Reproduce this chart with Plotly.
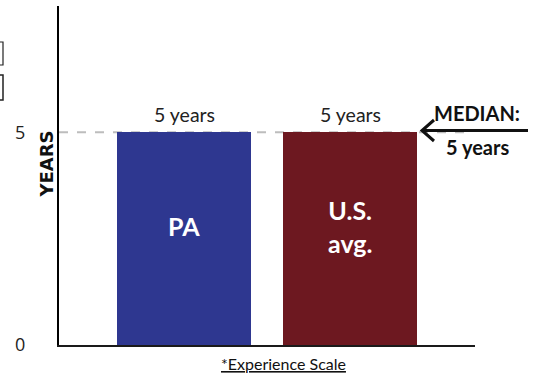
import plotly.graph_objects as go

categories = ["PA", "U.S. avg."]
category_lines = [["PA"], ["U.S.", "avg."]]
values = [5, 5]
value_labels = ["5 years", "5 years"]
bar_colors = ["#2E3790", "#6D1820"]
median_value = 5
median_label = ["MEDIAN:", "5 years"]
tick_vals = [0, 5]
tick_text = ["0", "5"]

x_pos = list(range(len(categories)))
FONT = "Lato"

def px_x(p):
    return (p - 59) / 416

def px_y(p):
    return (345 - p) / 339

fig = go.Figure()
fig.add_trace(go.Bar(
    x=x_pos, y=values, width=0.807,
    marker=dict(color=bar_colors, line=dict(width=0)),
    hoverinfo="skip", showlegend=False,
))

# category labels inside bars
for xp, lines in zip(x_pos, category_lines):
    fig.add_annotation(x=xp, y=px_y(226), xref="x", yref="paper",
                       xanchor="center", yanchor="middle",
                       text="<br>".join(f"<b>{ln}</b>" for ln in lines),
                       showarrow=False,
                       font=dict(family=FONT, size=25, color="white"))

# median dashed line
fig.add_shape(type="line", xref="x", yref="y", x0=-0.753, x1=1.74,
              y0=median_value, y1=median_value,
              line=dict(color="#BDBDBD", width=2, dash="dash"), layer="below")

# value labels above bars
for xp, lab, v in zip(x_pos, value_labels, values):
    fig.add_annotation(x=xp, y=v, yref="y", text=lab, showarrow=False,
                       yanchor="bottom", yshift=4,
                       font=dict(family=FONT, size=19.5, color="#222"))

# MEDIAN arrow (open chevron)
fig.add_shape(type="line", xref="paper", yref="paper",
              x0=px_x(528), x1=px_x(422), y0=px_y(130.5), y1=px_y(130.5),
              line=dict(color="#111", width=3))
fig.add_shape(type="path", xref="paper", yref="paper",
              path=f"M {px_x(434)},{px_y(120)} L {px_x(422)},{px_y(130.5)} L {px_x(434)},{px_y(141)}",
              line=dict(color="#111", width=3))
fig.add_annotation(x=px_x(477), y=px_y(113), xref="paper", yref="paper",
                   xanchor="center", yanchor="middle",
                   text=f"<b>{median_label[0]}</b>", showarrow=False,
                   font=dict(family=FONT, size=20, color="#111"))
fig.add_annotation(x=px_x(477), y=px_y(147), xref="paper", yref="paper",
                   xanchor="center", yanchor="middle",
                   text=f"<b>{median_label[1]}</b>", showarrow=False,
                   font=dict(family=FONT, size=20, color="#111"))

# YEARS axis title
fig.add_annotation(x=px_x(45.5), y=px_y(164), xref="paper", yref="paper",
                   xanchor="center", yanchor="middle",
                   text="<b>YEARS</b>", textangle=-90, showarrow=False,
                   font=dict(family="DejaVu Sans", size=18, color="#111"))

# x axis caption
fig.add_annotation(x=px_x(283), y=px_y(363), xref="paper", yref="paper",
                   xanchor="center", yanchor="middle",
                   text="<u>*Experience Scale</u>", showarrow=False,
                   font=dict(family=FONT, size=16, color="#111"))

# cropped boxes at left edge
fig.add_shape(type="rect", xref="paper", yref="paper",
              x0=px_x(-6), x1=px_x(3), y0=px_y(65), y1=px_y(42),
              line=dict(color="#222", width=1.2), fillcolor="white")
fig.add_shape(type="rect", xref="paper", yref="paper",
              x0=px_x(-6), x1=px_x(3), y0=px_y(100), y1=px_y(75),
              line=dict(color="#222", width=1.5), fillcolor="white")

fig.update_layout(
    width=542, height=377,
    margin=dict(l=59, r=67, t=6, b=32),
    paper_bgcolor="white", plot_bgcolor="white",
    font=dict(family=FONT, color="#222"),
    bargap=0,
    xaxis=dict(range=[-0.753, 1.753], showticklabels=False, showgrid=False,
               zeroline=False, showline=True, linecolor="#1a1a1a", linewidth=2,
               ticks="", fixedrange=True),
    yaxis=dict(range=[0, 7.97], tickvals=tick_vals, ticktext=tick_text,
               showgrid=False, zeroline=False, showline=True,
               linecolor="#000", linewidth=2, ticks="", ticklabelstandoff=28,
               tickfont=dict(family="Open Sans", size=18, color="#222")),
)

fig.write_html("out.html")
